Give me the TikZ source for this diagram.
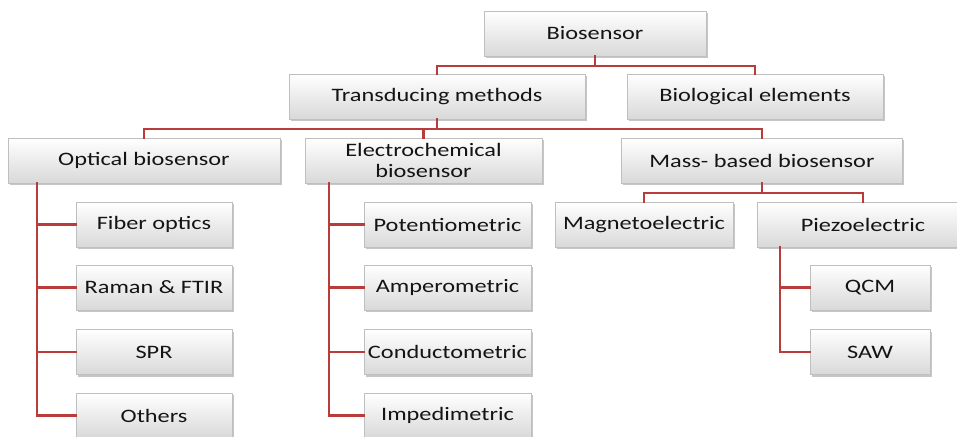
\documentclass[tikz,border=0pt]{standalone}
\usepackage{fontspec}
\setmainfont{Carlito}[FakeStretch=1.28]
\usetikzlibrary{shadows}
\definecolor{EdgeRed}{RGB}{185,60,60}

\begin{document}
\begin{tikzpicture}[x=1pt,y=-1pt]
  \tikzset{BoxStyle/.style = {
    shape          = rectangle,
    draw           = gray!50,
    top color      = white,
    bottom color   = gray!30,
    line width     = 0.6pt,
    text           = black!92,
    inner sep      = 1pt,
    outer sep      = 0pt,
    minimum height = 45pt,
    align          = center,
    font           = \fontsize{19}{21}\selectfont,
    drop shadow    = {shadow xshift=1.5pt, shadow yshift=-2pt, opacity=0.45, fill=gray}
    }
  }
  \tikzset{EdgeStyle/.style = {
    draw       = EdgeRed,
    line width = 2.2pt,
    line cap   = rect
    }
  }

  \useasboundingbox (0,0) rectangle (957,436);
  \clip (0,0) rectangle (957,436);

	\node[BoxStyle, minimum width=222pt](A1) at (595, 33.5) {Biosensor};
	\node[BoxStyle, minimum width=296pt](B1) at (437, 96.5) {Transducing methods};
	\node[BoxStyle, minimum width=256pt](B2) at (755, 96.5) {Biological elements};
	\node[BoxStyle, minimum width=272pt](C1) at (144, 160.5) {Optical biosensor};
	\node[BoxStyle, minimum width=237pt](C2) at (423.5, 160.5) {Electrochemical\\biosensor};
	\node[BoxStyle, minimum width=281pt](C3) at (762, 160.5) {Mass- based biosensor};
	\node[BoxStyle, minimum width=156pt](D1) at (154, 224.5) {Fiber optics};
	\node[BoxStyle, minimum width=156pt](D2) at (154, 287.5) {Raman \& FTIR};
	\node[BoxStyle, minimum width=156pt](D3) at (154, 352) {SPR};
	\node[BoxStyle, minimum width=156pt](D4) at (154, 415.5) {Others};
	\node[BoxStyle, minimum width=167pt](E1) at (447.5, 224.5) {Potentiometric};
	\node[BoxStyle, minimum width=167pt](E2) at (447.5, 287.5) {Amperometric};
	\node[BoxStyle, minimum width=167pt](E3) at (447.5, 352) {Conductometric};
	\node[BoxStyle, minimum width=167pt](E4) at (447.5, 415.5) {Impedimetric};
	\node[BoxStyle, minimum width=178pt](F1) at (644, 224.5) {Magnetoelectric};
	\node[BoxStyle, minimum width=212pt](F2) at (863, 224.5) {Piezoelectric};
	\node[BoxStyle, minimum width=120pt](G1) at (870, 287.5) {QCM};
	\node[BoxStyle, minimum width=120pt](G2) at (870, 352) {SAW};

	\coordinate (C1o) at (37, 183);
	\coordinate (C2o) at (329, 183);
	\coordinate (F2o) at (780, 247);

	\draw[EdgeStyle](A1.south) -- ++(0,10) -| (B1.north);
	\draw[EdgeStyle](A1.south) -- ++(0,10) -| (B2.north);
	\draw[EdgeStyle](B1.south) -- ++(0,10) -| (C1.north);
	\draw[EdgeStyle](B1.south) -- ++(0,10) -| (C2.north);
	\draw[EdgeStyle](B1.south) -- ++(0,10) -| (C3.north);
	\draw[EdgeStyle](C3.south) -- ++(0,10) -| (F1.north);
	\draw[EdgeStyle](C3.south) -- ++(0,10) -| (F2.north);
	\draw[EdgeStyle](C1o) |- (D1.west);
	\draw[EdgeStyle](C1o) |- (D2.west);
	\draw[EdgeStyle](C1o) |- (D3.west);
	\draw[EdgeStyle](C1o) |- (D4.west);
	\draw[EdgeStyle](C2o) |- (E1.west);
	\draw[EdgeStyle](C2o) |- (E2.west);
	\draw[EdgeStyle](C2o) |- (E3.west);
	\draw[EdgeStyle](C2o) |- (E4.west);
	\draw[EdgeStyle](F2o) |- (G1.west);
	\draw[EdgeStyle](F2o) |- (G2.west);

  \end{tikzpicture}
\end{document}
